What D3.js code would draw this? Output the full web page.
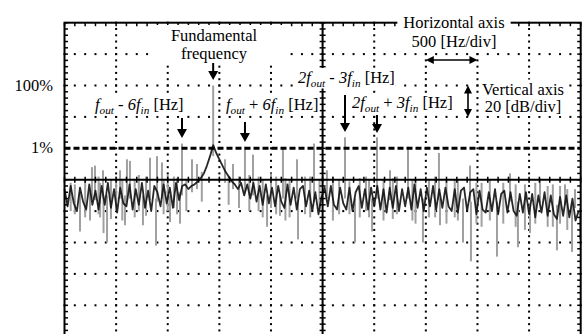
<!DOCTYPE html>
<html><head><meta charset="utf-8">
<script src="https://cdn.jsdelivr.net/npm/d3@7"></script>
<style>body{margin:0;background:#fff;overflow:hidden} text{font-family:"Liberation Serif","Times New Roman",serif;fill:#000}</style>
</head><body><svg id="c" width="587" height="334"></svg>
<script>
// ---------- data ----------
const freqStep = 30; // Hz between samples of the black trace
const blackTrace = [
 -66,-77,-64,-75,-80,-65,-74,-79,-63,-76,
 -67,-79,-64,-76,-62,-78,-66,-81,-65,-75,
 -77,-63,-79,-66,-76,-62,-78,-67,-80,-64,
 -68,-77,-63,-75,-65,-78,-62,-73,-64,-63,
 -66,-64,-63,-61,-59,-56,-51,-45,-38,-43,
 -47,-51,-55,-58,-61,-63,-66,-62,-70,-63,
 -72,-62,-74,-64,-76,-63,-75,-65,-77,-64,
 -74,-78,-63,-76,-65,-79,-66,-64,-77,-67,
 -80,-68,-82,-71,-65,-77,-64,-76,-79,-65,
 -75,-79,-65,-80,-68,-64,-78,-66,-79,-65,
 -77,-64,-79,-66,-81,-65,-78,-64,-80,-66,
 -77,-65,-79,-63,-78,-66,-80,-65,-77,-64,
 -79,-66,-78,-65,-77,-80,-66,-81,-67,-65,
 -80,-68,-66,-82,-67,-79,-81,-68,-80,-66,
 -82,-69,-67,-81,-68,-80,-83,-69,-81,-68,
 -82,-69,-84,-70,-81,-68,-83,-70,-82,-85,
 -71,-83,-70,-84,-72,-86,-80
];
// gray trace: [frequency Hz, low dB, high dB]
const graySpikes = [
 [266,-72,-52],[295,-73,-51],[373,-72,-54],[538,-72,-54],[605,-74,-47],[634,-72,-48],
 [828,-73,-46],[896,-74,-45],[944,-72,-49],[1138,-70,-37],[1235,-68,-47],[1283,-66,-50],
 [1440,-45,0],[1555,-62,-47],[1632,-66,-50],[1748,-68,-39],[1826,-70,-44],[2116,-72,-40],
 [2252,-72,-47],[2417,-74,-37],[2542,-72,-54],[2717,-72,-33],[3027,-72,-33],[3153,-73,-54],
 [3327,-72,-39],[3627,-73,-43],[3928,-74,-51],[4315,-74,-56],[4606,-75,-59],[4848,-76,-63],
 [4945,-78,-66],
 [150,-93,-68],[247,-86,-68],[378,-94,-70],[412,-100,-70],[586,-89,-70],[760,-89,-70],
 [886,-102,-72],[1022,-87,-70],[1119,-88,-68],[1962,-90,-70],[2087,-83,-70],[2262,-98,-72],
 [2814,-100,-72],[2979,-93,-72],[3472,-100,-72],[3637,-89,-72],[3860,-100,-72],[3937,-112,-74],
 [4189,-109,-74],[4392,-103,-74],[4509,-94,-75],[4770,-105,-76],[4916,-106,-76],[4993,-98,-78],
 [60,-80,-62],[200,-84,-60],[330,-82,-58],[450,-85,-60],[500,-80,-58],[680,-84,-60],[720,-80,-57],
 [960,-82,-60],[1060,-78,-58],[1180,-80,-60],[1330,-74,-55],[1690,-78,-58],[1880,-80,-58],
 [2000,-78,-56],[2180,-84,-60],[2330,-82,-58],[2470,-80,-60],[2600,-86,-58],[2660,-82,-60],
 [2860,-84,-59],[2920,-80,-58],[3090,-86,-60],[3220,-82,-58],[3400,-88,-60],[3530,-84,-60],
 [3700,-88,-61],[3780,-84,-60],[4040,-90,-62],[4120,-86,-60],[4250,-88,-62],[4460,-92,-63],
 [4560,-88,-62],[4680,-90,-64],[4870,-92,-66],
 [100,-82,-63],[345,-84,-62],[560,-86,-60],[790,-83,-58],[1000,-80,-57],[1090,-82,-59],
 [1590,-76,-58],[1790,-80,-57],[1920,-84,-60],[2050,-82,-58],[2140,-86,-59],[2380,-84,-58],
 [2760,-82,-61],[2950,-84,-60],[3180,-85,-59],[3370,-86,-60],[3590,-84,-58],[3810,-86,-60],
 [3990,-88,-62],[4370,-90,-63],[4730,-90,-63],[4800,-88,-64]
];
const xDomain = [0, 5000];      // Hz, 500 Hz/div
const yDomain = [-160, 40];     // dB, 20 dB/div
const xMajor = 500, xMinor = 100, yMajor = 20, yMinor = 4;
const centerDb = -60, centerHz = 2500;
const refDb = -40;              // 1% line
const yTickLabels = [{db: 0, label: "100%"}, {db: -40, label: "1%"}];
const harmonics = {fundamental: 1440, minus6: 1138, plus6: 1748, two3minus: 2717, two3plus: 3027};

// ---------- scales ----------
const x = d3.scaleLinear().domain(xDomain).range([64.5, 580.7]);
const y = d3.scaleLinear().domain(yDomain).range([336.7, 22.7]);
const svg = d3.select("#c");

// ---------- dotted grid ----------
const grid = svg.append("g");
const xMaj = d3.range(xDomain[0] + xMajor, xDomain[1], xMajor).filter(v => v !== centerHz);
const yMaj = d3.range(yDomain[0] + yMajor, yDomain[1], yMajor).filter(v => v !== centerDb && v !== refDb);
const xMin = d3.range(xDomain[0], xDomain[1] + 1, xMinor);
const yMin = d3.range(yDomain[0], yDomain[1] + 1, yMinor);
yMaj.forEach(db => xMin.forEach(f => grid.append("rect").attr("x", x(f) - 1).attr("y", y(db) - 1).attr("width", 2).attr("height", 2).attr("fill", "#000")));
xMaj.forEach(f => yMin.forEach(db => grid.append("rect").attr("x", x(f) - 1).attr("y", y(db) - 1).attr("width", 2).attr("height", 2).attr("fill", "#000")));

// ---------- traces ----------
const traces = svg.append("g");
traces.selectAll("line.g").data(graySpikes).enter().append("line")
  .attr("x1", d => x(d[0])).attr("x2", d => x(d[0]))
  .attr("y1", d => y(d[1])).attr("y2", d => y(d[2]))
  .attr("stroke", "#a0a0a0").attr("stroke-width", 2);
traces.append("path").datum(blackTrace)
  .attr("d", d3.line().x((d, i) => x(i * freqStep)).y(d => y(d)))
  .attr("fill", "none").attr("stroke", "#111").attr("stroke-width", 1.8).attr("stroke-opacity", 0.9)
  .attr("stroke-linejoin", "round");

// ---------- frame, center lines, ticks ----------
const fr = svg.append("g");
const [x0, x1] = x.range(), [yb, yt] = y.range();
fr.append("rect").attr("x", x0).attr("y", yt).attr("width", x1 - x0).attr("height", yb - yt)
  .attr("fill", "none").attr("stroke", "#000").attr("stroke-width", 2);
fr.append("line").attr("x1", x0).attr("x2", x1).attr("y1", y(centerDb)).attr("y2", y(centerDb)).attr("stroke", "#000").attr("stroke-width", 2);
fr.append("line").attr("x1", x(centerHz)).attr("x2", x(centerHz)).attr("y1", yt).attr("y2", yb).attr("stroke", "#000").attr("stroke-width", 2);
yMin.forEach(db => {
  fr.append("line").attr("x1", x0).attr("x2", x0 + 3.5).attr("y1", y(db)).attr("y2", y(db)).attr("stroke", "#000").attr("stroke-width", 1.5);
  fr.append("line").attr("x1", x1 - 3.5).attr("x2", x1).attr("y1", y(db)).attr("y2", y(db)).attr("stroke", "#000").attr("stroke-width", 1.5);
  fr.append("line").attr("x1", x(centerHz) - 3).attr("x2", x(centerHz) + 3).attr("y1", y(db)).attr("y2", y(db)).attr("stroke", "#000").attr("stroke-width", 1.5);
});
xMin.forEach(f => {
  fr.append("line").attr("x1", x(f)).attr("x2", x(f)).attr("y1", yt).attr("y2", yt + 3.5).attr("stroke", "#000").attr("stroke-width", 1.5);
  fr.append("line").attr("x1", x(f)).attr("x2", x(f)).attr("y1", y(centerDb) - 3).attr("y2", y(centerDb) + 3).attr("stroke", "#000").attr("stroke-width", 1.5);
});
// 1% reference
fr.append("line").attr("x1", x0).attr("x2", x1).attr("y1", y(refDb)).attr("y2", y(refDb))
  .attr("stroke", "#000").attr("stroke-width", 3).attr("stroke-dasharray", "6,3");

// ---------- y labels ----------
svg.selectAll("text.yl").data(yTickLabels).enter().append("text")
  .attr("x", 53).attr("y", d => y(d.db) + 5).attr("text-anchor", "end").attr("font-size", 16.5).text(d => d.label);

// ---------- annotations ----------
const ann = svg.append("g");
function rich(parts, xp, yp, anchor, size, bg) {
  const g = ann.append("g");
  const t = g.append("text").attr("x", xp).attr("y", yp).attr("text-anchor", anchor).attr("font-size", size);
  let shifted = false;
  parts.forEach(p => {
    const ts = t.append("tspan").text(p.t);
    if (p.i) ts.attr("font-style", "italic");
    if (p.s) { ts.attr("font-size", size * 0.68); if (!shifted) { ts.attr("dy", 3.5); shifted = true; } }
    else if (shifted) { ts.attr("dy", -3.5); shifted = false; }
  });
  if (bg) {
    const b = t.node().getBBox();
    g.insert("rect", "text").attr("x", b.x - bg[0]).attr("y", b.y - bg[1]).attr("width", b.width + 2 * bg[0]).attr("height", b.height + 2 * bg[1]).attr("fill", "#fff");
  }
  return g;
}
function arrow(xp, yFrom, yTo) {
  ann.append("line").attr("x1", xp).attr("x2", xp).attr("y1", yFrom).attr("y2", yTo - 7).attr("stroke", "#000").attr("stroke-width", 2);
  ann.append("path").attr("d", `M${xp - 5},${yTo - 9}L${xp + 5},${yTo - 9}L${xp},${yTo}Z`).attr("fill", "#000");
}
const FS = 16.5;
// Fundamental frequency (white box breaks the grid behind it)
ann.append("rect").attr("fill", "#fff").attr("x", 153).attr("y", 25).attr("width", 130).attr("height", 38);
rich([{t: "Fundamental"}], 214, 41, "middle", FS);
rich([{t: "frequency"}], 214, 58.5, "middle", FS);
arrow(x(harmonics.fundamental), 63, 80);

rich([{t: "f", i: 1}, {t: "out", i: 1, s: 1}, {t: " - "}, {t: "6f", i: 1}, {t: "in", i: 1, s: 1}, {t: " [Hz]"}], 95, 110, "start", FS, [1, 0]);
arrow(x(harmonics.minus6), 118, 138);
rich([{t: "f", i: 1}, {t: "out", i: 1, s: 1}, {t: " + "}, {t: "6f", i: 1}, {t: "in", i: 1, s: 1}, {t: " [Hz]"}], 226, 110, "start", FS, [1, 0]);
arrow(x(harmonics.plus6), 122, 142);
rich([{t: "2f", i: 1}, {t: "out", i: 1, s: 1}, {t: " - "}, {t: "3f", i: 1}, {t: "in", i: 1, s: 1}, {t: " [Hz]"}], 298, 83, "start", FS, [1, 0]);
arrow(x(harmonics.two3minus), 95, 132);
rich([{t: "2f", i: 1}, {t: "out", i: 1, s: 1}, {t: " + "}, {t: "3f", i: 1}, {t: "in", i: 1, s: 1}, {t: " [Hz]"}], 352, 108, "start", FS, [1, 0]);
arrow(x(harmonics.two3plus), 115, 133);

rich([{t: "Horizontal axis"}], 454, 28, "middle", FS, [6, 0]);
rich([{t: "500 [Hz/div]"}], 454, 47, "middle", FS, [2, 0]);
rich([{t: "Vertical axis"}], 523, 94.5, "middle", FS, [2, 0]);
rich([{t: "20 [dB/div]"}], 523, 112, "middle", FS, [2, 0]);

// scale arrows (one division each)
function dbl(xa, ya, xb, yb2) {
  ann.append("line").attr("x1", xa).attr("y1", ya).attr("x2", xb).attr("y2", yb2).attr("stroke", "#000").attr("stroke-width", 1.6);
}
const hy = 60, ha = x(3500), hb = x(4000);
dbl(ha + 5, hy, hb - 5, hy);
ann.append("path").attr("d", `M${ha},${hy}L${ha + 8},${hy - 4}L${ha + 8},${hy + 4}Z`);
ann.append("path").attr("d", `M${hb},${hy}L${hb - 8},${hy - 4}L${hb - 8},${hy + 4}Z`);
const vx = 468, va = y(0), vb = y(-20);
dbl(vx, va + 5, vx, vb - 5);
ann.append("path").attr("d", `M${vx},${va}L${vx - 4},${va + 8}L${vx + 4},${va + 8}Z`);
ann.append("path").attr("d", `M${vx},${vb}L${vx - 4},${vb - 8}L${vx + 4},${vb - 8}Z`);
</script></body></html>
